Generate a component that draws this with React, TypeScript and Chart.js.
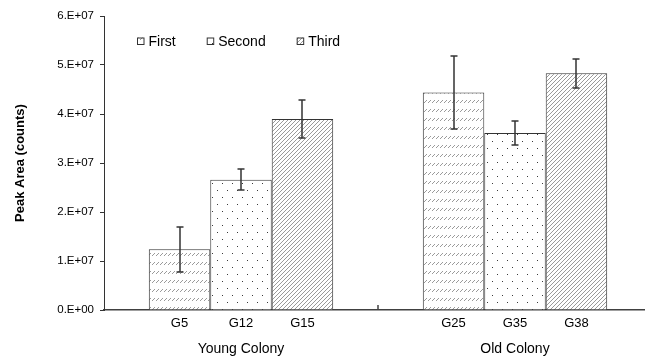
import React, { useEffect, useRef } from 'react';
import { Chart, registerables } from 'chart.js';

Chart.register(...registerables);

// ---- data ----
const groupLabels = ['Young Colony', 'Old Colony'];
const seriesNames = ['First', 'Second', 'Third'];
const firstSamples = ['G5', 'G25'];
const secondSamples = ['G12', 'G35'];
const thirdSamples = ['G15', 'G38'];
const firstValues = [12.4e6, 44.4e6];
const secondValues = [26.6e6, 36.1e6];
const thirdValues = [39.0e6, 48.3e6];
const firstErrors = [4.6e6, 7.5e6];
const secondErrors = [2.1e6, 2.4e6];
const thirdErrors = [3.9e6, 3.0e6];
const yMin = 0;
const yMax = 6e7;
const yStep = 1e7;
const yTitle = 'Peak Area (counts)';

const sampleLists = [firstSamples, secondSamples, thirdSamples];
const valueLists = [firstValues, secondValues, thirdValues];
const errorLists = [firstErrors, secondErrors, thirdErrors];

const FONT = 'Arial, "Liberation Sans", sans-serif';

function makePattern(kind: string): CanvasPattern | string {
  const c = document.createElement('canvas');
  const g = c.getContext('2d');
  if (!g) return '#fff';
  if (kind === 'dash') {
    c.width = 4; c.height = 9;
    g.fillStyle = '#fff'; g.fillRect(0, 0, 4, 9);
    g.fillStyle = '#9a9a9a';
    g.fillRect(0, 3, 1, 1);
    g.fillRect(1, 2, 1, 1);
    g.fillRect(2, 1, 1, 1);
  } else if (kind === 'dots') {
    c.width = 10; c.height = 14;
    g.fillStyle = '#fff'; g.fillRect(0, 0, 10, 14);
    g.fillStyle = '#3a3a3a';
    g.fillRect(2, 1, 1, 1);
    g.fillRect(7, 8, 1, 1);
  } else {
    c.width = 4; c.height = 4;
    g.fillStyle = '#fff'; g.fillRect(0, 0, 4, 4);
    g.strokeStyle = '#9a9a9a'; g.lineWidth = 1;
    g.beginPath(); g.moveTo(0, 4); g.lineTo(4, 0); g.stroke();
    g.beginPath(); g.moveTo(-1, 1); g.lineTo(1, -1); g.stroke();
    g.beginPath(); g.moveTo(3, 5); g.lineTo(5, 3); g.stroke();
  }
  return g.createPattern(c, 'repeat') || '#fff';
}

export default function App() {
  const ref = useRef<HTMLCanvasElement | null>(null);

  useEffect(() => {
    const canvas = ref.current;
    if (!canvas) return;
    const patterns = [makePattern('dash'), makePattern('dots'), makePattern('diag')];

    const overlay = {
      id: 'overlay',
      afterDatasetsDraw(chart: any) {
        const ctx = chart.ctx as CanvasRenderingContext2D;
        const ys = chart.scales.y;
        const xs = chart.scales.x;
        const area = chart.chartArea;
        ctx.save();
        // error bars
        ctx.strokeStyle = '#333';
        ctx.lineWidth = 1.5;
        valueLists.forEach((vals, i) => {
          const meta = chart.getDatasetMeta(i);
          meta.data.forEach((el: any, j: number) => {
            const top = Math.round(ys.getPixelForValue(vals[j] + errorLists[i][j]));
            const bot = Math.round(ys.getPixelForValue(vals[j] - errorLists[i][j]));
            const x = Math.round(el.x);
            ctx.beginPath();
            ctx.moveTo(x, top); ctx.lineTo(x, bot);
            ctx.moveTo(x - 3.5, top); ctx.lineTo(x + 3.5, top);
            ctx.moveTo(x - 3.5, bot); ctx.lineTo(x + 3.5, bot);
            ctx.stroke();
          });
        });
        // sample labels under each bar
        ctx.fillStyle = '#000';
        ctx.font = '13px ' + FONT;
        ctx.textAlign = 'center';
        ctx.textBaseline = 'alphabetic';
        sampleLists.forEach((names, i) => {
          const meta = chart.getDatasetMeta(i);
          meta.data.forEach((el: any, j: number) => {
            ctx.fillText(names[j], el.x, area.bottom + 17);
          });
        });
        // divider tick between groups
        const mid = (xs.getPixelForValue(0) + xs.getPixelForValue(1)) / 2;
        ctx.strokeStyle = '#404040';
        ctx.lineWidth = 1.5;
        ctx.beginPath();
        ctx.moveTo(Math.round(mid), area.bottom - 5);
        ctx.lineTo(Math.round(mid), area.bottom);
        ctx.stroke();
        // legend
        ctx.font = '14px ' + FONT;
        ctx.textAlign = 'left';
        let lx = area.left + 33;
        const ly = area.top + 21.5;
        seriesNames.forEach((name, i) => {
          ctx.fillStyle = patterns[i] as any;
          ctx.fillRect(lx, ly, 7, 7);
          ctx.strokeStyle = '#333';
          ctx.lineWidth = 1;
          ctx.strokeRect(lx + 0.5, ly + 0.5, 6.5, 6.5);
          ctx.fillStyle = '#000';
          ctx.fillText(name, lx + 11.5, ly + 8.5);
          lx += 11.5 + ctx.measureText(name).width + 31;
        });
        ctx.restore();
      },
    };

    const chart = new Chart(canvas, {
      type: 'bar',
      data: {
        labels: groupLabels,
        datasets: seriesNames.map((name, i) => ({
          label: name,
          data: valueLists[i],
          backgroundColor: patterns[i] as any,
          borderColor: '#333',
          borderWidth: 1,
          categoryPercentage: 0.673,
          barPercentage: 1,
        })),
      },
      options: {
        responsive: false,
        animation: false,
        layout: { padding: { top: 16, right: 0, bottom: 0, left: 0 } },
        plugins: {
          legend: { display: false },
          tooltip: { enabled: false },
          title: { display: false },
        },
        scales: {
          x: {
            type: 'category',
            grid: { display: false, drawTicks: false },
            border: { display: true, color: '#404040', width: 1.5 },
            ticks: {
              color: '#000',
              font: { family: FONT, size: 14 },
              padding: 31,
              maxRotation: 0,
            },
            afterFit: (s: any) => { s.height = 48; },
          },
          y: {
            min: yMin,
            max: yMax,
            grid: { drawOnChartArea: false, drawTicks: true, tickLength: 4, color: '#333' },
            border: { display: true, color: '#333', width: 1 },
            ticks: {
              stepSize: yStep,
              color: '#000',
              font: { family: FONT, size: 11.5 },
              padding: 6,
              callback: (v: any) => {
                const n = Number(v);
                return n === 0 ? '0.E+00' : `${n / 1e7}.E+07`;
              },
            },
            title: {
              display: true,
              text: yTitle,
              color: '#000',
              font: { family: FONT, size: 13, weight: 'bold' },
              padding: { top: 13, bottom: 0 },
            },
            afterFit: (s: any) => { s.width = 104; },
          },
        },
      },
      plugins: [overlay],
    });
    return () => chart.destroy();
  }, []);

  return (
    <div style={{ position: 'absolute', left: 0, top: 0, width: 645, height: 358, overflow: 'hidden', background: '#fff' }}>
      <canvas ref={ref} width={652} height={358} style={{ display: 'block' }} />
    </div>
  );
}
